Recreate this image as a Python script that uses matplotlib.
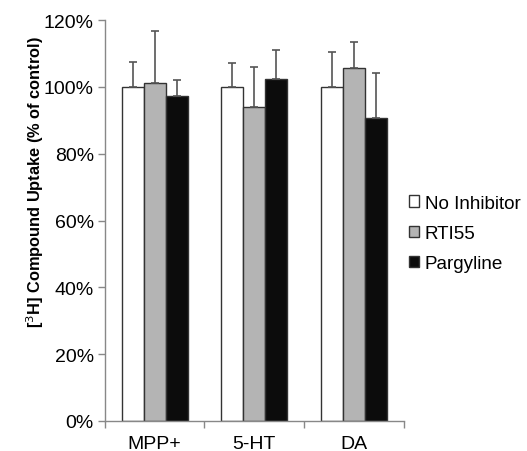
import numpy as np
import matplotlib
matplotlib.use('Agg')
import matplotlib.pyplot as plt
from matplotlib.ticker import PercentFormatter

plt.rcParams['font.family'] = ['Liberation Sans', 'DejaVu Sans']

# data (percent of control)
compounds = ['MPP+', '5-HT', 'DA']
series = ['No Inhibitor', 'RTI55', 'Pargyline']
no_inhibitor = [100.0, 100.0, 100.0]
rti55 = [101.3, 94.1, 105.8]
pargyline = [97.3, 102.5, 90.7]
err_no_inhibitor = [7.3, 7.0, 10.3]
err_rti55 = [15.5, 11.9, 7.6]
err_pargyline = [4.7, 8.4, 13.5]

values = [no_inhibitor, rti55, pargyline]
errors = [err_no_inhibitor, err_rti55, err_pargyline]
colors = ['white', '#b4b4b4', '#0c0c0c']

fig = plt.figure(figsize=(5.27, 4.52), dpi=100)
ax = fig.add_axes([0.199, 0.0664, 0.567, 0.887])

x = np.arange(len(compounds))
w = 0.22
for i in range(3):
    ax.bar(x + (i - 1) * w, values[i], w, color=colors[i],
           edgecolor='#333333', linewidth=1.0, zorder=2)
    ax.errorbar(x + (i - 1) * w, values[i],
                yerr=[np.zeros(3), errors[i]], fmt='none',
                ecolor='#555555', elinewidth=1.2, capsize=2.6,
                capthick=1.2, zorder=3)

ax.set_xlim(-0.5, 2.5)
ax.set_ylim(0, 120)
ax.set_yticks(np.arange(0, 121, 20))
ax.yaxis.set_major_formatter(PercentFormatter(decimals=0))
ax.set_xticks(x)
ax.set_xticklabels(compounds)
ax.set_xticks([-0.5, 0.5, 1.5, 2.5], minor=True)
ax.tick_params(axis='x', which='major', length=0, labelsize=14, pad=10)
ax.tick_params(axis='x', which='minor', length=5, color='#888888', width=1)
ax.tick_params(axis='y', length=5, color='#888888', width=1,
               labelsize=14, pad=3)

for s in ['top', 'right']:
    ax.spines[s].set_visible(False)
for s in ['left', 'bottom']:
    ax.spines[s].set_color('#888888')
    ax.spines[s].set_linewidth(1)

fig.text(0.066, 0.598, '[$^3$H] Compound Uptake (% of control)',
         rotation=90, ha='center', va='center', fontsize=11.8,
         fontweight='bold')

handles = [plt.Rectangle((0, 0), 1, 1, facecolor=c, edgecolor='#333333')
           for c in colors]
fig.legend(handles, series, loc='center left',
           bbox_to_anchor=(0.776, 0.481), frameon=False, fontsize=13.6,
           handlelength=0.55, handleheight=0.55, handletextpad=0.28,
           labelspacing=0.7, borderaxespad=0, borderpad=0)

fig.savefig('out.png', dpi=100)
